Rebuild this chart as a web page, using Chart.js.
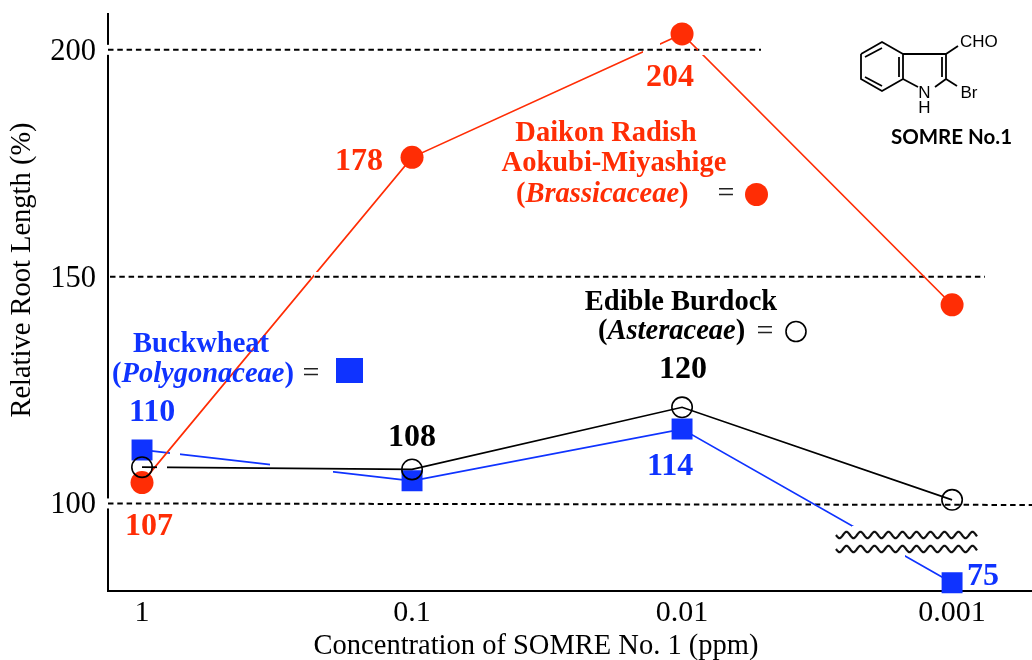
<!DOCTYPE html>
<html lang="en">
<head>
  <meta charset="UTF-8" />
  <title>SOMRE No.1 root length</title>
  <script src="https://cdn.jsdelivr.net/npm/chart.js"></script>
  <style>
    body { margin: 0; background: #fff; }
    canvas { display: block; }
  </style>
</head>
<body>
  <canvas id="chart" width="1032" height="660"></canvas>

  <script>
    const concentrations = ['1', '0.1', '0.01', '0.001'];
    const yTicks = [100, 150, 200];

    // values as plotted (the axis is broken below 100, so the last blue point sits at about 82)
    const daikon = [104.6, 176.3, 203.5, 143.8];
    const burdock = [108, 107.5, 121.2, 100.8];
    const buckwheat = [111.8, 105, 116.4, 82.5];

    // printed value labels
    const daikonLabels = ['107', '178', '204', null];
    const burdockLabels = [null, '108', '120', null];
    const buckwheatLabels = ['110', null, '114', '75'];

    const RED = '#ff2d05';
    const BLUE = '#0f33ff';
    const BLACK = '#000';
    const SERIF = '"Liberation Serif"';

    const gaps = [
      [[157, 460, 10, 16]],
      [[643, 40, 17, 15], [698, 43, 9, 12], [314, 272, 8, 10]],
      [[270, 455, 63, 20], [170, 444, 10, 14], [852, 526, 53, 31]]
    ];

    function text(ctx, str, x, y, font, color, align) {
      ctx.font = font;
      ctx.fillStyle = color;
      ctx.textAlign = align || 'center';
      ctx.textBaseline = 'middle';
      ctx.fillText(str, x, y + 2);
    }

    // draws bold + bold italic + bold pieces on one line, starting at x
    function family(ctx, name, x, y, color) {
      const b = 'bold 28.5px ' + SERIF;
      const i = 'italic bold 28.5px ' + SERIF;
      text(ctx, '(', x, y, b, color, 'left');
      x += ctx.measureText('(').width;
      text(ctx, name, x, y, i, color, 'left');
      x += ctx.measureText(name).width;
      text(ctx, ')', x, y, b, color, 'left');
    }

    function stroke(ctx, pts, width, color) {
      ctx.beginPath();
      pts.forEach((p, i) => i ? ctx.lineTo(p[0], p[1]) : ctx.moveTo(p[0], p[1]));
      ctx.lineWidth = width;
      ctx.strokeStyle = color;
      ctx.stroke();
    }

    function drawStructure(ctx) {
      const bonds = [
        [[861, 54], [882, 42], [903, 54], [903, 79], [882, 91], [861, 79], [861, 54]],
        [[865, 57], [882, 48]],
        [[899, 57], [899, 77]],
        [[865, 77], [882, 86]],
        [[903, 54], [946, 54], [946, 79], [935, 87]],
        [[942, 57], [942, 77]],
        [[903, 79], [918, 87]],
        [[946, 54], [958, 46]],
        [[946, 79], [957, 86]]
      ];
      ctx.save();
      bonds.forEach(b => stroke(ctx, b, 1.8, BLACK));
      const f = '17px "Liberation Sans"';
      text(ctx, 'CHO', 960, 40, f, BLACK, 'left');
      text(ctx, 'N', 924.5, 91, f, BLACK);
      text(ctx, 'H', 924.5, 106, f, BLACK);
      text(ctx, 'Br', 960.5, 91, f, BLACK, 'left');
      text(ctx, 'SOMRE No.1', 951.5, 135, 'bold 20.5px Lato', BLACK);
      ctx.restore();
    }

    function drawWave(ctx, y) {
      const pts = [];
      for (let x = 836; x <= 977; x++) {
        pts.push([x, y + 3.2 * Math.sin((x - 836) / 14 * 2 * Math.PI)]);
      }
      stroke(ctx, pts, 2.2, '#111');
    }

    const annotations = {
      id: 'annotations',
      beforeDatasetDraw(chart, args) {
        const ctx = chart.ctx;
        ctx.save();
        ctx.beginPath();
        ctx.rect(0, 0, chart.width, chart.height);
        gaps[args.index].forEach(g => ctx.rect(g[0], g[1], g[2], g[3]));
        ctx.clip('evenodd');
      },
      afterDatasetDraw(chart) {
        chart.ctx.restore();
      },
      beforeDatasetsDraw(chart) {
        const ctx = chart.ctx;
        const y = chart.scales.y;
        ctx.save();
        // gaps in the y axis where the 200 and 100 guides start
        ctx.fillStyle = '#fff';
        ctx.fillRect(104, y.getPixelForValue(200) - 5, 8, 10);
        ctx.fillRect(104, y.getPixelForValue(100) - 5, 8, 10);
        ctx.setLineDash([5.5, 3.8]);
        stroke(ctx, [[108, y.getPixelForValue(200)], [761, y.getPixelForValue(200)]], 2, BLACK);
        stroke(ctx, [[110, y.getPixelForValue(150)], [985, y.getPixelForValue(150)]], 2, BLACK);
        stroke(ctx, [[108, y.getPixelForValue(100)], [1032, y.getPixelForValue(100) + 1.5]], 2, BLACK);
        ctx.restore();
      },
      afterDatasetsDraw(chart) {
        const ctx = chart.ctx;
        const x = chart.scales.x;
        const y = chart.scales.y;
        const px = i => x.getPixelForValue(i);
        const py = (s, i) => y.getPixelForValue(s[i]);
        const num = 'bold 32px ' + SERIF;
        ctx.save();

        // value labels, placed relative to their points
        text(ctx, daikonLabels[0], px(0) + 7, py(daikon, 0) + 42, num, RED);
        text(ctx, daikonLabels[1], px(1) - 53, py(daikon, 1) + 2, num, RED);
        text(ctx, daikonLabels[2], px(2) - 12, py(daikon, 2) + 42, num, RED);
        text(ctx, buckwheatLabels[0], px(0) + 10, py(buckwheat, 0) - 39, num, BLUE);
        text(ctx, buckwheatLabels[2], px(2) - 12, py(buckwheat, 2) + 36, num, BLUE);
        text(ctx, buckwheatLabels[3], px(3) + 31, py(buckwheat, 3) - 8, num, BLUE);
        text(ctx, burdockLabels[1], px(1), py(burdock, 1) - 34, num, BLACK);
        text(ctx, burdockLabels[2], px(2) + 1, py(burdock, 2) - 40, num, BLACK);

        // hand made legends
        const bold = 'bold 28.5px ' + SERIF;
        const eq = '30px ' + SERIF;
        text(ctx, 'Daikon Radish', 606, 132, bold, RED);
        text(ctx, 'Aokubi-Miyashige', 614, 162, bold, RED);
        family(ctx, 'Brassicaceae', 516, 193, RED);
        text(ctx, '=', 726, 192, eq, '#222');
        ctx.beginPath();
        ctx.arc(756.5, 194.5, 11.5, 0, Math.PI * 2);
        ctx.fillStyle = RED;
        ctx.fill();

        text(ctx, 'Buckwheat', 201, 343, bold, BLUE);
        family(ctx, 'Polygonaceae', 112, 373, BLUE);
        text(ctx, '=', 311, 372, eq, '#222');
        ctx.fillStyle = BLUE;
        ctx.fillRect(336, 358, 27, 25);

        text(ctx, 'Edible Burdock', 681, 301, bold, BLACK);
        family(ctx, 'Asteraceae', 598, 330, BLACK);
        text(ctx, '=', 765, 330, eq, '#222');
        ctx.beginPath();
        ctx.arc(796, 331.5, 10, 0, Math.PI * 2);
        ctx.lineWidth = 1.6;
        ctx.strokeStyle = BLACK;
        ctx.stroke();

        // axis break
        drawWave(ctx, 535);
        drawWave(ctx, 549);

        drawStructure(ctx);

        // axis titles
        text(ctx, 'Concentration of SOMRE No. 1 (ppm)', 536, 645, '28.5px ' + SERIF, BLACK);
        ctx.save();
        ctx.translate(21, 270);
        ctx.rotate(-Math.PI / 2);
        text(ctx, 'Relative Root Length (%)', 0, 0, '28.5px ' + SERIF, BLACK);
        ctx.restore();

        ctx.restore();
      }
    };

    function series(label, data, color, extra) {
      return Object.assign({
        label: label,
        data: data.map((v, i) => ({ x: i, y: v })),
        borderColor: color,
        borderWidth: 1.7,
        tension: 0,
        clip: false,
        pointBackgroundColor: color,
        pointBorderColor: color,
        pointBorderWidth: 0
      }, extra);
    }

    // tick labels may hang past the plot here, so the layout must not reserve room for them
    function noPadding(s) {
      s.paddingLeft = s.paddingRight = s.paddingTop = s.paddingBottom = 0;
    }

    new Chart(document.getElementById('chart').getContext('2d'), {
      type: 'line',
      data: {
        datasets: [
          series('Edible Burdock', burdock, BLACK, {
            order: 1,
            pointRadius: 10.2,
            pointBackgroundColor: 'transparent',
            pointBorderWidth: 1.6
          }),
          series('Daikon Radish', daikon, RED, { order: 2, pointRadius: 11.5 }),
          series('Buckwheat', buckwheat, BLUE, { order: 3, pointStyle: 'rect', pointRadius: 14.8 })
        ]
      },
      options: {
        responsive: false,
        animation: false,
        layout: { autoPadding: false, padding: { top: 14 } },
        plugins: { legend: { display: false }, tooltip: { enabled: false } },
        scales: {
          x: {
            type: 'linear',
            min: -0.126,
            max: 3.296,
            grid: { display: false, drawTicks: false },
            border: { color: BLACK, width: 2 },
            ticks: {
              color: BLACK,
              font: { family: SERIF, size: 30 },
              padding: 4,
              maxRotation: 0,
              autoSkip: false,
              callback: v => concentrations[v]
            },
            afterBuildTicks: s => { s.ticks = concentrations.map((c, i) => ({ value: i })); },
            afterFit: s => { s.height = 69; noPadding(s); }
          },
          y: {
            min: 80.7,
            max: 207.9,
            grid: { display: false, drawTicks: false },
            border: { color: BLACK, width: 2 },
            ticks: {
              color: BLACK,
              font: { family: SERIF, size: 30.5 },
              padding: 12,
              labelOffset: 2,
              autoSkip: false
            },
            afterBuildTicks: s => { s.ticks = yTicks.map(v => ({ value: v })); },
            afterFit: s => { s.width = 108; noPadding(s); }
          }
        }
      },
      plugins: [annotations]
    });
  </script>
</body>
</html>
